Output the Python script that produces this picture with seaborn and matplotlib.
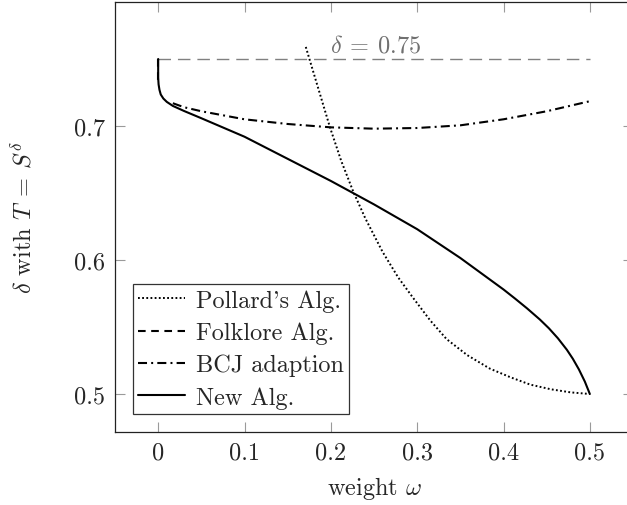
import numpy as np
import pandas as pd
import matplotlib
matplotlib.use("Agg")
import matplotlib.pyplot as plt
import seaborn as sns

# ---- data ----
pollard_w = [0.171, 0.185, 0.199, 0.212, 0.226, 0.240, 0.260, 0.278, 0.295, 0.315,
             0.334, 0.358, 0.384, 0.408, 0.431, 0.455, 0.478, 0.500]
pollard_d = [0.759, 0.729, 0.699, 0.674, 0.651, 0.631, 0.606, 0.587, 0.572, 0.555,
             0.541, 0.529, 0.519, 0.5125, 0.507, 0.5035, 0.5012, 0.500]

folklore_w = [0.0, 0.0]
folklore_d = [0.750, 0.734]

bcj_w = [0.017, 0.030, 0.050, 0.075, 0.100, 0.150, 0.200, 0.250, 0.300, 0.350,
         0.400, 0.450, 0.500]
bcj_d = [0.717, 0.714, 0.711, 0.708, 0.705, 0.7015, 0.699, 0.698, 0.6985, 0.7005,
         0.705, 0.711, 0.7185]

new_w = [0.0, 0.0, 0.0005, 0.0015, 0.003, 0.006, 0.010, 0.017, 0.030, 0.050, 0.100,
         0.150, 0.200, 0.250, 0.300, 0.350, 0.400, 0.4132, 0.4271, 0.4421, 0.4525,
         0.4630, 0.4734, 0.4803, 0.4873, 0.4942, 0.500]
new_d = [0.750, 0.736, 0.731, 0.727, 0.7235, 0.7205, 0.718, 0.715, 0.7112, 0.7058,
         0.692, 0.6755, 0.659, 0.6415, 0.623, 0.6015, 0.578, 0.5713, 0.5640, 0.5556,
         0.5491, 0.5416, 0.5330, 0.5263, 0.5184, 0.5093, 0.500]

ref_w = [0.0, 0.5]
ref_d = [0.75, 0.75]
ref_label = r"$\delta\:=\:0.75$"

x_ticks = [0, 0.1, 0.2, 0.3, 0.4, 0.5]
x_ticklabels = ["0", "0.1", "0.2", "0.3", "0.4", "0.5"]
y_ticks = [0.5, 0.6, 0.7]
y_ticklabels = ["0.5", "0.6", "0.7"]

labels = ["Pollard's Alg.", "Folklore Alg.", "BCJ adaption", "New Alg."]

# ---- style ----
sns.set_style("white")
plt.rcParams["font.family"] = ["cmr10", "DejaVu Serif"]
plt.rcParams["mathtext.fontset"] = "cm"
plt.rcParams["axes.formatter.use_mathtext"] = True
plt.rcParams["lines.scale_dashes"] = False

FS = 17.5

fig = plt.figure(figsize=(6.27, 5.06), dpi=100)
ax = fig.add_axes([115 / 627, (506 - 433) / 506, 518 / 627, 430 / 506])

# reference line
sns.lineplot(x=ref_w, y=ref_d, ax=ax, color="#808080", lw=1.0,
             linestyle=(0, (9, 5)), estimator=None, sort=False, legend=False)
ax.text(0.199, 0.7515, ref_label, color="#707070", fontsize=FS,
        ha="left", va="bottom")

lw = 1.5
sns.lineplot(x=pollard_w, y=pollard_d, ax=ax, color="black", lw=1.4,
             linestyle=(0, (1.3, 1.7)), estimator=None, sort=False, label=labels[0])
sns.lineplot(x=folklore_w, y=folklore_d, ax=ax, color="black", lw=lw,
             linestyle=(0, (5.5, 4)), estimator=None, sort=False, label=labels[1])
sns.lineplot(x=bcj_w, y=bcj_d, ax=ax, color="black", lw=lw,
             linestyle=(0, (6.5, 3, 1.4, 3)), estimator=None, sort=False, label=labels[2])
sns.lineplot(x=new_w, y=new_d, ax=ax, color="black", lw=lw,
             linestyle="-", estimator=None, sort=False, label=labels[3])

ax.set_xlim(-0.05, 0.55)
ax.set_ylim(0.5 - 38 / 1340, 0.5 + 430 / 1340 - 38 / 1340)
ax.set_xticks(x_ticks)
ax.set_xticklabels(x_ticklabels)
ax.set_yticks(y_ticks)
ax.set_yticklabels(y_ticklabels)
ax.tick_params(direction="in", length=7.5, width=0.8, color="#9a9a9a",
               top=True, right=True, bottom=True, left=True,
               labelsize=FS, pad=7)
for s in ax.spines.values():
    s.set_color("#222222")
    s.set_linewidth(0.9)

ax.set_xlabel(r"weight $\omega$", fontsize=FS)
ax.set_ylabel(r"$\delta$ with $T\:=\:S^\delta$", fontsize=FS)
ax.xaxis.set_label_coords(0.5, -0.097)
ax.yaxis.set_label_coords(-0.152, 0.5)

leg = ax.legend(loc="lower left", bbox_to_anchor=(0.035, 0.042), borderaxespad=0,
                fontsize=FS, handlelength=1.9, handletextpad=0.45,
                labelspacing=0.4, borderpad=0.22, fancybox=False,
                framealpha=1, edgecolor="#333333")
leg.get_frame().set_linewidth(0.9)

fig.savefig("out.png", dpi=100)
